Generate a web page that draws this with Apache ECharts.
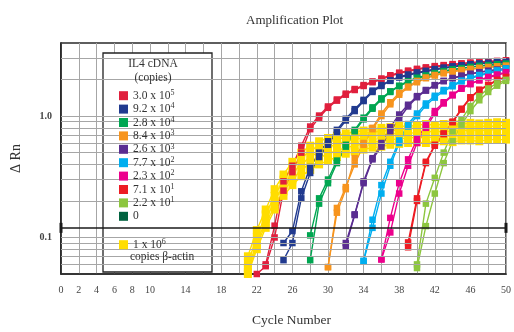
<!DOCTYPE html>
<html>
<head>
<meta charset="utf-8">
<script src="https://cdn.jsdelivr.net/npm/echarts@6/dist/echarts.min.js"></script>
<style>
html, body { margin: 0; padding: 0; background: #fff; }
#chart { width: 514px; height: 332px; }
</style>
</head>
<body>
<div id="chart"></div>
<script>
// cycle numbers 20..50, every value array is indexed by (cycle - 20)
var cycles = [20, 21, 22, 23, 24, 25, 26, 27, 28, 29, 30, 31, 32, 33, 34, 35, 36, 37, 38, 39, 40, 41, 42, 43, 44, 45, 46, 47, 48, 49, 50];

var xTicks = [0, 2, 4, 6, 8, 10, 14, 18, 22, 26, 30, 34, 38, 42, 46, 50];
var yGridValues = [0.06, 0.07, 0.08, 0.09, 0.1, 0.2, 0.3, 0.4, 0.5, 0.6, 0.7, 0.8, 0.9, 1, 2, 3];
var threshold = 0.122;

// IL4 cDNA dilutions (legend names)
var dilutionMant = ['3.0', '9.2', '2.8', '8.4', '2.6', '7.7', '2.3', '7.1', '2.2', '0'];
var dilutionExp = ['5', '4', '4', '3', '3', '2', '2', '1', '1', ''];
var dilutionColors = ['#e01f3d', '#213a8f', '#00a651', '#f7941d', '#5a2d91', '#00aeef', '#ec008c', '#ed1c24', '#8dc63f', '#00623f'];

var r3e5a = [null, null, 0.05, 0.058, 0.1, 0.243, 0.345, 0.5, 0.78, 0.97, 1.17, 1.34, 1.5, 1.64, 1.77, 1.9, 2.0, 2.14, 2.25, 2.34, 2.42, 2.49, 2.55, 2.6, 2.65, 2.69, 2.73, 2.77, 2.8, 2.83, 2.86];
var r3e5b = [null, null, null, 0.06, 0.125, 0.29, 0.39, 0.57, 0.82, 1.01, 1.2, 1.37, 1.53, 1.67, 1.8, 1.93, 2.04, 2.17, 2.28, 2.37, 2.45, 2.52, 2.58, 2.63, 2.68, 2.72, 2.76, 2.79, 2.82, 2.85, 2.88];
var b92e4a = [null, null, null, null, null, 0.065, 0.09, 0.21, 0.34, 0.46, 0.58, 0.74, 0.92, 1.1, 1.33, 1.58, 1.77, 1.95, 2.08, 2.17, 2.26, 2.33, 2.41, 2.48, 2.54, 2.6, 2.65, 2.69, 2.73, 2.76, 2.79];
var b92e4b = [null, null, null, null, null, 0.09, 0.113, 0.24, 0.38, 0.5, 0.62, 0.77, 0.95, 1.14, 1.36, 1.62, 1.8, 1.97, 2.1, 2.2, 2.29, 2.36, 2.44, 2.51, 2.57, 2.62, 2.67, 2.71, 2.75, 2.78, 2.81];
var g28e4a = [null, null, null, null, null, null, null, null, 0.065, 0.19, 0.28, 0.41, 0.56, 0.75, 0.94, 1.15, 1.37, 1.58, 1.76, 1.92, 2.05, 2.14, 2.24, 2.33, 2.41, 2.47, 2.53, 2.58, 2.62, 2.66, 2.69];
var g28e4b = [null, null, null, null, null, null, null, null, 0.104, 0.21, 0.3, 0.43, 0.58, 0.77, 0.97, 1.18, 1.4, 1.6, 1.78, 1.94, 2.07, 2.16, 2.26, 2.35, 2.42, 2.48, 2.54, 2.59, 2.63, 2.67, 2.7];
var o84e3a = [null, null, null, null, null, null, null, null, null, null, 0.057, 0.175, 0.26, 0.4, 0.58, 0.78, 1.0, 1.25, 1.5, 1.72, 1.9, 2.05, 2.16, 2.25, 2.32, 2.38, 2.43, 2.48, 2.52, 2.56, 2.59];
var o84e3b = [null, null, null, null, null, null, null, null, null, null, 0.057, 0.16, 0.25, 0.45, 0.6, 0.8, 1.05, 1.3, 1.55, 1.75, 1.95, 2.08, 2.18, 2.27, 2.34, 2.4, 2.45, 2.5, 2.54, 2.57, 2.6];
var p26e3a = [null, null, null, null, null, null, null, null, null, null, null, null, 0.085, 0.153, 0.28, 0.44, 0.56, 0.75, 0.95, 1.2, 1.43, 1.62, 1.79, 1.94, 2.05, 2.14, 2.22, 2.29, 2.35, 2.4, 2.45];
var p26e3b = [null, null, null, null, null, null, null, null, null, null, null, null, 0.09, 0.155, 0.29, 0.45, 0.6, 0.81, 1.03, 1.24, 1.46, 1.64, 1.8, 1.95, 2.06, 2.15, 2.23, 2.3, 2.36, 2.41, 2.46];
var c77e2a = [null, null, null, null, null, null, null, null, null, null, null, null, null, null, 0.064, 0.12, 0.23, 0.39, 0.6, 0.82, 1.0, 1.22, 1.42, 1.6, 1.76, 1.93, 2.04, 2.15, 2.25, 2.35, 2.44];
var c77e2b = [null, null, null, null, null, null, null, null, null, null, null, null, null, null, 0.064, 0.14, 0.27, 0.42, 0.63, 0.86, 1.05, 1.27, 1.47, 1.64, 1.8, 1.96, 2.07, 2.18, 2.28, 2.38, 2.47];
var m23e2a = [null, null, null, null, null, null, null, null, null, null, null, null, null, null, null, null, 0.066, 0.11, 0.23, 0.39, 0.6, 0.8, 1.05, 1.27, 1.48, 1.68, 1.83, 1.97, 2.08, 2.17, 2.28];
var m23e2b = [null, null, null, null, null, null, null, null, null, null, null, null, null, null, null, null, 0.066, 0.145, 0.28, 0.44, 0.65, 0.84, 1.1, 1.3, 1.5, 1.7, 1.85, 1.98, 2.1, 2.2, 2.3];
var r71e1a = [null, null, null, null, null, null, null, null, null, null, null, null, null, null, null, null, null, null, null, 0.083, 0.2, 0.41, 0.57, 0.71, 0.89, 1.13, 1.41, 1.63, 1.79, 1.97, 2.08];
var r71e1b = [null, null, null, null, null, null, null, null, null, null, null, null, null, null, null, null, null, null, null, 0.091, 0.21, 0.42, 0.58, 0.72, 0.9, 1.15, 1.43, 1.65, 1.81, 1.99, 2.1];
var l22e1a = [null, null, null, null, null, null, null, null, null, null, null, null, null, null, null, null, null, null, null, null, 0.056, 0.124, 0.23, 0.41, 0.62, 0.85, 1.1, 1.35, 1.58, 1.78, 1.95];
var l22e1b = [null, null, null, null, null, null, null, null, null, null, null, null, null, null, null, null, null, null, null, null, 0.06, 0.19, 0.31, 0.5, 0.75, 0.94, 1.21, 1.46, 1.69, 1.86, 1.99];

// beta-actin replicates
var actin1 = [null, 0.07, 0.115, 0.17, 0.25, 0.33, 0.42, 0.5, 0.57, 0.62, 0.66, 0.69, 0.72, 0.74, 0.76, 0.78, 0.8, 0.81, 0.83, 0.82, 0.84, 0.86, 0.84, 0.86, 0.87, 0.86, 0.88, 0.87, 0.88, 0.89, 0.88];
var actin2 = [null, 0.062, 0.1, 0.155, 0.22, 0.3, 0.38, 0.45, 0.52, 0.57, 0.61, 0.64, 0.67, 0.7, 0.72, 0.74, 0.75, 0.77, 0.76, 0.79, 0.8, 0.78, 0.81, 0.8, 0.82, 0.82, 0.8, 0.83, 0.82, 0.83, 0.84];
var actin3 = [null, 0.056, 0.09, 0.14, 0.2, 0.27, 0.34, 0.4, 0.46, 0.51, 0.55, 0.59, 0.62, 0.64, 0.66, 0.68, 0.7, 0.71, 0.72, 0.73, 0.72, 0.74, 0.75, 0.74, 0.76, 0.75, 0.77, 0.76, 0.77, 0.77, 0.78];
var actin4 = [null, 0.052, 0.085, 0.13, 0.18, 0.24, 0.3, 0.36, 0.41, 0.45, 0.49, 0.52, 0.55, 0.57, 0.59, 0.61, 0.62, 0.64, 0.65, 0.66, 0.67, 0.66, 0.68, 0.68, 0.69, 0.68, 0.69, 0.7, 0.7, 0.69, 0.71];
var actin5 = [null, 0.05, 0.08, 0.12, 0.17, 0.22, 0.27, 0.32, 0.36, 0.4, 0.43, 0.46, 0.49, 0.51, 0.53, 0.55, 0.56, 0.58, 0.59, 0.6, 0.61, 0.6, 0.62, 0.62, 0.61, 0.63, 0.63, 0.62, 0.64, 0.64, 0.64];

var replicates = [
	[r3e5a, r3e5b], [b92e4a, b92e4b], [g28e4a, g28e4b], [o84e3a, o84e3b], [p26e3a, p26e3b],
	[c77e2a, c77e2b], [m23e2a, m23e2b], [r71e1a, r71e1b], [l22e1a, l22e1b], []
];
var actinName = '1 x 10^6';
var actinColor = '#ffdd00';

var serif = 'Liberation Serif';

function toPairs(vals) {
	var out = [];
	for (var i = 0; i < cycles.length; i++) {
		if (vals[i] != null) out.push([cycles[i], vals[i]]);
	}
	return out;
}

function dilutionName(i) {
	return dilutionExp[i] ? dilutionMant[i] + ' x 10^' + dilutionExp[i] : dilutionMant[i];
}

function curve(name, color, vals, size) {
	return {
		name: name,
		type: 'line',
		data: toPairs(vals),
		symbol: 'rect',
		symbolSize: size,
		showAllSymbol: true,
		color: color,
		lineStyle: { color: color, width: 1.4 },
		itemStyle: { color: color },
		animation: false,
		silent: true
	};
}

var series = [];
// grid lines and threshold
series.push({
	type: 'line',
	data: [],
	z: 1,
	silent: true,
	markLine: {
		silent: true,
		symbol: 'none',
		animation: false,
		label: { show: false },
		lineStyle: { color: '#a6a6a6', width: 1, type: 'solid' },
		data: yGridValues.map(function(v) { return { yAxis: v }; })
	}
});
series.push({
	type: 'line',
	data: [],
	z: 3,
	silent: true,
	markLine: {
		silent: true,
		symbol: ['rect', 'rect'],
		symbolSize: [10, 3],
		animation: false,
		label: { show: false },
		lineStyle: { color: '#1a1a1a', width: 1.6, type: 'solid' },
		itemStyle: { color: '#1a1a1a' },
		data: [{ yAxis: threshold }]
	}
});

[actin1, actin2, actin3, actin4, actin5].forEach(function(a) {
	series.push(curve(actinName, actinColor, a, 8));
});
for (var k = 0; k < replicates.length; k++) {
	if (replicates[k].length === 0) {
		series.push(curve(dilutionName(k), dilutionColors[k], [], 6.5));
	}
	for (var j = 0; j < replicates[k].length; j++) {
		series.push(curve(dilutionName(k), dilutionColors[k], replicates[k][j], 6.5));
	}
}

var rich = {
	b: { fontFamily: serif, fontSize: 11.5, color: '#333', lineHeight: 13.4, verticalAlign: 'middle' },
	s: { fontFamily: serif, fontSize: 8, color: '#333', lineHeight: 8, verticalAlign: 'top' }
};

function legendFormatter(name) {
	var parts = name.split('^');
	if (parts.length > 1) return '{b|' + parts[0] + '}{s|' + parts[1] + '}';
	return '{b|' + name + '}';
}

let mychart = echarts.init(document.getElementById('chart'));

let option = {
	backgroundColor: '#fff',
	title: {
		text: 'Amplification Plot',
		left: 241,
		top: 9,
		textStyle: { fontFamily: serif, fontSize: 13, fontWeight: 'normal', color: '#333' }
	},
	grid: {
		left: 61,
		right: 3,
		top: 43,
		bottom: 52,
		show: true,
		borderColor: '#2a2a2a',
		borderWidth: 1.5
	},
	legend: [{
		orient: 'vertical',
		left: 114,
		top: 84,
		itemWidth: 9,
		itemHeight: 9,
		itemGap: 0,
		icon: 'rect',
		z: 10,
		selectedMode: false,
		data: dilutionMant.map(function(m, i) { return dilutionName(i); }),
		formatter: legendFormatter,
		textStyle: { fontFamily: serif, fontSize: 11.5, color: '#333', lineHeight: 13.4, rich: rich }
	}, {
		orient: 'vertical',
		left: 114,
		top: 233,
		itemWidth: 9,
		itemHeight: 9,
		icon: 'rect',
		z: 10,
		selectedMode: false,
		data: [actinName],
		formatter: legendFormatter,
		textStyle: { fontFamily: serif, fontSize: 11.5, color: '#333', rich: rich }
	}],
	graphic: [{
		type: 'rect',
		z: 5,
		shape: { x: 103, y: 53, width: 109, height: 219 },
		style: { fill: '#fff', stroke: '#222', lineWidth: 1.3 }
	}, {
		type: 'text',
		z: 11,
		x: 153,
		y: 58,
		style: { text: 'IL4 cDNA', fontFamily: serif, fontSize: 11.5, fill: '#333', align: 'center' }
	}, {
		type: 'text',
		z: 11,
		x: 153,
		y: 72,
		style: { text: '(copies)', fontFamily: serif, fontSize: 11.5, fill: '#333', align: 'center' }
	}, {
		type: 'text',
		z: 11,
		x: 130,
		y: 251,
		style: { text: 'copies \u03b2-actin', fontFamily: serif, fontSize: 11.5, fill: '#333' }
	}],
	xAxis: {
		type: 'value',
		min: 0,
		max: 50,
		interval: 2,
		name: 'Cycle Number',
		nameLocation: 'middle',
		nameGap: 39,
		nameTextStyle: { fontFamily: serif, fontSize: 13.5, color: '#333', padding: [0, 0, 0, 16] },
		axisLine: { show: true, lineStyle: { color: '#2a2a2a', width: 1.5 } },
		axisTick: { show: false },
		splitLine: { show: true, lineStyle: { color: '#a6a6a6', width: 1 } },
		axisLabel: {
			margin: 11,
			fontFamily: serif,
			fontSize: 10,
			color: '#444',
			formatter: function(v) { return xTicks.indexOf(v) >= 0 ? String(v) : ''; }
		}
	},
	yAxis: {
		type: 'log',
		logBase: 10,
		min: 0.05,
		max: 4,
		name: '\u0394 Rn',
		nameLocation: 'middle',
		nameGap: 38,
		nameRotate: 90,
		nameTextStyle: { fontFamily: serif, fontSize: 14, color: '#333' },
		axisLine: { show: true, lineStyle: { color: '#1a1a1a', width: 1.5 } },
		axisTick: { show: false },
		splitLine: { show: false },
		axisLabel: {
			margin: 9,
			fontFamily: serif,
			fontSize: 10,
			fontWeight: 'bold',
			color: '#444',
			showMinLabel: false,
			showMaxLabel: false,
			formatter: function(v) {
				if (Math.abs(v - 1) < 1e-9) return '1.0';
				if (Math.abs(v - 0.1) < 1e-9) return '0.1';
				return '';
			}
		}
	},
	series: series
};

mychart.setOption(option);
</script>
</body>
</html>
